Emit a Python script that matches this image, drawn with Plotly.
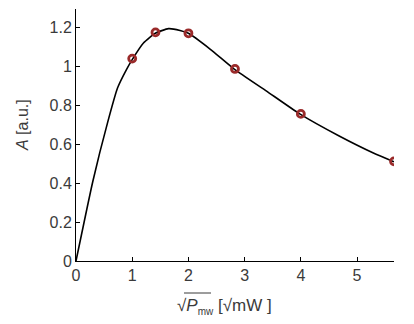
import plotly.graph_objects as go

# measured points: sqrt(P_mw) and amplitude
x_meas = [1.0, 1.414, 2.0, 2.828, 4.0, 5.657]
a_meas = [1.04, 1.175, 1.17, 0.987, 0.756, 0.512]

# fitted curve
x_fit = [0, 0.3, 0.57, 0.74, 0.9, 1.0, 1.2, 1.41, 1.645, 1.85, 2.0,
         2.39, 2.82, 3.39, 3.98, 4.69, 5.29, 5.657]
a_fit = [0, 0.41, 0.72, 0.89, 0.985, 1.035, 1.12, 1.17, 1.194, 1.185, 1.17,
         1.088, 0.985, 0.873, 0.756, 0.641, 0.555, 0.51]

x_ticks = [0, 1, 2, 3, 4, 5]
y_ticks = [0, 0.2, 0.4, 0.6, 0.8, 1.0, 1.2]
y_ticklabels = ["0", "0.2", "0.4", "0.6", "0.8", "1", "1.2"]

FONT = "Liberation Sans, Arial, sans-serif"

fig = go.Figure()
fig.add_trace(go.Scatter(x=x_fit, y=a_fit, mode="lines",
                         line=dict(color="black", width=1.6, shape="spline", smoothing=0.5),
                         showlegend=False, hoverinfo="skip"))
fig.add_trace(go.Scatter(x=x_meas, y=a_meas, mode="markers",
                         marker=dict(symbol="circle-open", size=7, color="#9a2a2a",
                                     line=dict(width=2.8, color="#9a2a2a")),
                         showlegend=False))

fig.update_layout(
    width=414, height=324,
    margin=dict(l=76, r=20, t=9, b=63),
    paper_bgcolor="white", plot_bgcolor="white",
    font=dict(family=FONT, size=15, color="#3a3a3a"),
    xaxis=dict(range=[0, 5.657], tickvals=x_ticks, ticks="inside", ticklen=4,
               tickcolor="black", showline=True, linecolor="black", linewidth=1,
               showgrid=False, zeroline=False, mirror=False,
               tickfont=dict(size=16)),
    yaxis=dict(range=[0, 1.295], tickvals=y_ticks, ticktext=y_ticklabels,
               ticks="inside", ticklen=4, tickcolor="black",
               showline=True, linecolor="black", linewidth=1,
               showgrid=False, zeroline=False,
               tickfont=dict(size=16)),
)

# axis titles as annotations (paper: x 0->76px, 1->394px; y 0->261px, 1->9px)
fig.add_annotation(text="√<i>P</i><sub><span style='font-size:10px'>mw</span></sub> [√mW ]",
                   xref="paper", yref="paper",
                   x=(224 - 76) / 318, y=(261 - 306) / 252, xanchor="center", yanchor="middle",
                   showarrow=False, font=dict(size=17, color="#3a3a3a"))
fig.add_annotation(text="<i>A</i> [a.u.]", xref="paper", yref="paper",
                   x=(22 - 76) / 318, y=(261 - 125) / 252, xanchor="center", yanchor="middle",
                   textangle=-90, showarrow=False, font=dict(size=16, color="#3a3a3a"))
# vinculum of the square-root sign over P_mw
fig.add_shape(type="line", xref="paper", yref="paper",
              x0=(184 - 76) / 318, x1=(211 - 76) / 318,
              y0=(261 - 293) / 252, y1=(261 - 293) / 252,
              line=dict(color="#3a3a3a", width=1))

fig.write_html("out.html")
